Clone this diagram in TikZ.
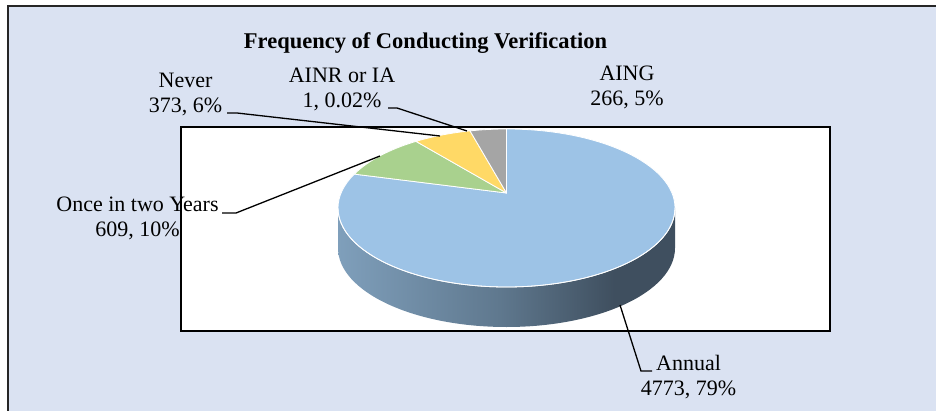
\documentclass[tikz,border=0pt]{standalone}
\usepackage{fontspec}
\setmainfont{Liberation Serif}
\usetikzlibrary{calc}
\definecolor{bgblue}{RGB}{218,226,242}
\definecolor{frameline}{RGB}{38,38,38}
\definecolor{annualc}{RGB}{157,195,230}
\definecolor{oncec}{RGB}{169,209,142}
\definecolor{neverc}{RGB}{255,217,102}
\definecolor{aingc}{RGB}{165,165,165}
\definecolor{sideA}{RGB}{127,159,187}
\definecolor{sideB}{RGB}{95,120,142}
\definecolor{sideC}{RGB}{63,79,95}
\pgfdeclarehorizontalshading{pieside}{100bp}{color(0bp)=(sideA); color(25bp)=(sideA); color(49bp)=(sideB); color(66bp)=(sideC); color(100bp)=(sideC)}
\tikzset{
  lbl/.style={align=center, inner sep=0pt, font=\fontsize{22}{25}\selectfont},
  ttl/.style={inner sep=0pt, font=\fontsize{22.5}{26}\selectfont\bfseries},
  leader/.style={draw=black, line width=1.3pt},
  slice/.style={draw=white, line width=0.8pt, line join=round},
}
\begin{document}
\begin{tikzpicture}[x=1pt,y=1pt]
\useasboundingbox (0,0) rectangle (936,410);
% outer chart area
\fill[white] (0,0) rectangle (936,410);
\draw[fill=bgblue, draw=frameline, line width=1.6pt] (8,404) rectangle (1000,-40);
% plot area
\draw[fill=white, draw=black, line width=1.6pt] (181,283) rectangle (830,79);
% pie geometry
\coordinate (C) at (506.5,202);
\coordinate (A) at (506.5,217);
\def\rx{168.5}\def\ry{79}
% side
\path[shading=pieside] ($(C)+(-\rx,0)$) arc[start angle=180, end angle=360, x radius=\rx, y radius=\ry] -- ++(0,-40) arc[start angle=360, end angle=180, x radius=\rx, y radius=\ry] -- cycle;
% top slices
\filldraw[slice, fill=annualc] (A) -- ($(C)+(90:\rx pt and \ry pt)$) arc[start angle=90, end angle=-205.4, x radius=\rx, y radius=\ry] -- cycle;
\filldraw[slice, fill=oncec] (A) -- ($(C)+(154.6:\rx pt and \ry pt)$) arc[start angle=154.6, end angle=122.5, x radius=\rx, y radius=\ry] -- cycle;
\filldraw[slice, fill=neverc] (A) -- ($(C)+(122.5:\rx pt and \ry pt)$) arc[start angle=122.5, end angle=102.5, x radius=\rx, y radius=\ry] -- cycle;
\filldraw[slice, fill=aingc] (A) -- ($(C)+(102.5:\rx pt and \ry pt)$) arc[start angle=102.5, end angle=90, x radius=\rx, y radius=\ry] -- cycle;
\draw[white, line width=0.8pt] ($(C)+(-\rx,0)$) arc[start angle=180, end angle=360, x radius=\rx, y radius=\ry];
% title
\node[ttl] (title) at (425.5,367) {Frequency of Conducting Verification};
% labels
\node[lbl] (never) at (185.5,316) {Never\\373, 6\%};
\node[lbl] (ainr) at (342,321) {AINR or IA\\1, 0.02\%};
\node[lbl] (aing) at (627,323) {AING\\266, 5\%};
\node[lbl] (once) at (137.5,191.5) {Once in two Years\\609, 10\%};
\node[lbl] (annual) at (688.5,32.5) {Annual\\4773, 79\%};
% leader anchors
\coordinate (neverS) at (227,297); \coordinate (neverK) at (237,297); \coordinate (neverE) at (440,274);
\coordinate (ainrS) at (388,302); \coordinate (ainrK) at (397,302); \coordinate (ainrE) at (467,279);
\coordinate (onceS) at (222,197); \coordinate (onceK) at (236,197); \coordinate (onceE) at (380,254);
\coordinate (annS) at (620,105); \coordinate (annK) at (641,39); \coordinate (annE) at (652,39);
\draw[leader] (neverS) -- (neverK) -- (neverE);
\draw[leader] (ainrS) -- (ainrK) -- (ainrE);
\draw[leader] (onceS) -- (onceK) -- (onceE);
\draw[leader] (annS) -- (annK) -- (annE);
\end{tikzpicture}
\end{document}
